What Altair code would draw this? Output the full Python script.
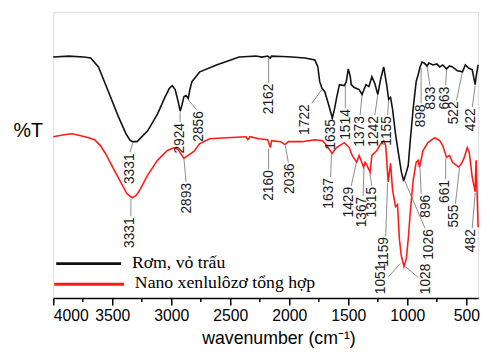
import altair as alt
import pandas as pd

# ---- data (wavenumber cm^-1, %T in arbitrary units) ----
series_names = ["Rơm, vỏ trấu", "Nano xenlulôzơ tổng hợp"]
series_colors = ["#111111", "#ff1a1a"]

black_pts = [
    (4000, 245), (3867, 246), (3742, 245), (3683, 244), (3617, 235), (3533, 210),
    (3450, 185), (3383, 167), (3350, 160.5), (3331, 159), (3290, 159), (3200, 170),
    (3117, 187), (3058, 203), (3017, 213), (2992, 216), (2967, 212), (2942, 200),
    (2924, 190), (2908, 197), (2892, 205), (2875, 206), (2856, 203), (2842, 212),
    (2825, 220), (2758, 230), (2617, 237), (2425, 245), (2350, 245.5), (2283, 246),
    (2230, 245), (2183, 246), (2162, 244), (2150, 246), (2060, 245.5), (1975, 245),
    (1867, 244), (1783, 242), (1758, 235), (1742, 220), (1722, 213), (1700, 210),
    (1675, 200), (1635, 183), (1617, 192), (1600, 203), (1575, 217), (1533, 216),
    (1517, 220), (1500, 233), (1483, 225), (1475, 217), (1450, 214), (1408, 212),
    (1383, 207), (1367, 212), (1350, 217), (1325, 215), (1300, 225), (1275, 218),
    (1250, 207), (1225, 223), (1200, 235), (1175, 217), (1158, 202), (1142, 204),
    (1125, 192), (1100, 167), (1075, 147), (1050, 128), (1033, 120), (1026, 121),
    (1008, 128), (992, 135), (975, 160), (950, 193), (925, 220), (908, 227),
    (892, 235), (875, 240), (858, 239), (833, 236), (817, 239), (783, 237),
    (750, 238), (725, 235), (700, 237), (667, 233), (642, 236), (617, 235),
    (575, 231), (533, 230), (508, 237), (483, 234), (450, 232), (425, 217),
    (417, 225), (400, 237),
]

red_pts = [
    (4000, 164), (3908, 166), (3842, 167), (3767, 165), (3700, 163), (3650, 161),
    (3600, 155), (3558, 147), (3492, 132), (3425, 117), (3375, 106), (3331, 102),
    (3300, 104), (3275, 108), (3200, 125), (3117, 140), (3033, 150), (2975, 153),
    (2942, 151), (2893, 142), (2858, 145), (2808, 149), (2758, 157), (2675, 162),
    (2533, 163), (2367, 164), (2350, 161), (2333, 164), (2258, 162), (2183, 161),
    (2160, 153), (2150, 160), (2075, 159), (2036, 156), (2008, 159), (1892, 159),
    (1783, 161), (1717, 160), (1683, 155), (1637, 147), (1600, 153), (1533, 158),
    (1492, 153), (1467, 145), (1429, 138), (1408, 145), (1370, 133), (1358, 138),
    (1342, 135), (1315, 128), (1300, 145), (1258, 150), (1225, 157), (1200, 160),
    (1183, 155), (1162, 118), (1142, 137), (1125, 110), (1100, 93), (1083, 95),
    (1067, 60), (1051, 43), (1028, 32), (1008, 40), (992, 60), (975, 87),
    (950, 120), (925, 138), (908, 140), (896, 133), (867, 150), (825, 158),
    (767, 163), (725, 160), (700, 155), (668, 143), (642, 145), (617, 138),
    (565, 133), (540, 137), (517, 143), (492, 153), (475, 148), (450, 123),
    (425, 108), (417, 140), (400, 72),
]

# peak annotations: text, text x, text top, leader start (x, y), leader end (x, y)
peak_labels = [
    ("3331", 3350, 147, 3325, 158, 3350, 148),
    ("2924", 2925, 178, 2925, 189, 2925, 179),
    ("2856", 2767, 190, 2858, 202, 2783, 191),
    ("2162", 2175, 218, 2175, 244, 2175, 219),
    ("1722", 1867, 197, 1725, 212, 1808, 198),
    ("1635", 1642, 182, 1642, 183, 1642, 182),
    ("1514", 1517, 192, 1525, 216, 1525, 193),
    ("1373", 1400, 185, 1383, 207, 1400, 186),
    ("1242", 1283, 185, 1250, 207, 1275, 186),
    ("1155", 1175, 185, 1158, 201, 1167, 186),
    ("898", 883, 197, 883, 234, 883, 198),
    ("833", 800, 215, 833, 236, 808, 216),
    ("663", 683, 215, 667, 233, 675, 216),
    ("522", 600, 200, 533, 230, 583, 201),
    ("422", 458, 193, 425, 216, 450, 194),
    ("1026", 817, 70, 1025, 120, 850, 71),
    ("3331", 3350, 82, 3342, 101, 3342, 83),
    ("2893", 2867, 117, 2892, 141, 2875, 118),
    ("2160", 2175, 130, 2175, 152, 2175, 131),
    ("2036", 1992, 137, 2033, 155, 2008, 138),
    ("1637", 1667, 122, 1642, 146, 1650, 123),
    ("1429", 1492, 113, 1433, 137, 1475, 114),
    ("1367", 1383, 103, 1367, 132, 1375, 104),
    ("1315", 1300, 113, 1317, 127, 1300, 114),
    ("1159", 1200, 62, 1167, 117, 1183, 63),
    ("1051", 1225, 35, 1058, 35, 1158, 22),
    ("1028", 842, 35, 1017, 32, 908, 21),
    ("896", 842, 105, 892, 132, 883, 106),
    ("661", 683, 120, 675, 142, 675, 121),
    ("555", 608, 95, 558, 132, 592, 96),
    ("482", 458, 70, 425, 107, 450, 71),
]

major_ticks = [4000, 3500, 3000, 2500, 2000, 1500, 1000, 500]
minor_ticks = [3750, 3250, 2750, 2250, 1750, 1250, 750]

# ---- build tables ----
rows = []
for name, pts in zip(series_names, [black_pts, red_pts]):
    for wn, t in pts:
        rows.append({"series": name, "wn": wn, "T": t})
spec_df = pd.DataFrame(rows)

lab_df = pd.DataFrame(peak_labels, columns=["text", "x", "top", "x1", "y1", "x2", "y2"])
minor_df = pd.DataFrame({"wn": minor_ticks})

W, H = 432, 291
xscale = alt.Scale(domain=[4000, 400], nice=False, zero=False)
yscale = alt.Scale(domain=[0, 291], nice=False, zero=False)

x_axis = alt.Axis(
    values=major_ticks, format="d", title="wavenumber (cm⁻¹)", grid=False,
    tickSize=7, tickWidth=1.5, tickColor="black",
    domainColor="black", domainWidth=1.5,
    labelFont="Liberation Sans", labelFontSize=16, labelColor="black", labelPadding=3,
    titleFont="Liberation Sans", titleFontSize=18, titleFontWeight="normal",
    titleColor="black", titleX=229, titleY=46, titleBaseline="alphabetic",
)
y_axis = alt.Axis(
    title="%T", labels=False, ticks=False, domain=False, grid=False,
    titleAngle=0, titleFont="Liberation Sans", titleFontSize=20,
    titleFontWeight="normal", titleColor="black",
    titleX=-26, titleY=121, titleAlign="center", titleBaseline="middle",
)

lines = alt.Chart(spec_df).mark_line(strokeWidth=1.6, interpolate="linear").encode(
    x=alt.X("wn:Q", scale=xscale, axis=x_axis),
    y=alt.Y("T:Q", scale=yscale, axis=y_axis),
    color=alt.Color("series:N", scale=alt.Scale(domain=series_names, range=series_colors), legend=None),
    detail="series:N",
)

leaders = alt.Chart(lab_df).mark_rule(color="#8a8a8a", strokeWidth=1).encode(
    x=alt.X("x1:Q", scale=xscale), y=alt.Y("y1:Q", scale=yscale),
    x2="x2:Q", y2="y2:Q",
)

texts = alt.Chart(lab_df).mark_text(
    angle=270, align="right", baseline="middle",
    font="Liberation Sans", fontSize=14, color="#1a1a1a",
).encode(
    x=alt.X("x:Q", scale=xscale), y=alt.Y("top:Q", scale=yscale), text="text:N",
)

minor = alt.Chart(minor_df).mark_rule(color="black", strokeWidth=1.5).encode(
    x=alt.X("wn:Q", scale=xscale), y=alt.value(H), y2=alt.value(H + 4),
)

one = pd.DataFrame({"k": [0]})
leg_black_line = alt.Chart(one).mark_rule(color=series_colors[0], strokeWidth=3).encode(
    x=alt.value(3), x2=alt.value(69), y=alt.value(256))
leg_black_text = alt.Chart(one).mark_text(
    align="left", baseline="middle", font="Liberation Serif", fontSize=18, color="black"
).encode(x=alt.value(80), y=alt.value(255), text=alt.value(series_names[0]))
leg_red_line = alt.Chart(one).mark_rule(color=series_colors[1], strokeWidth=3).encode(
    x=alt.value(1), x2=alt.value(72), y=alt.value(277))
leg_red_text = alt.Chart(one).mark_text(
    align="left", baseline="middle", font="Liberation Serif", fontSize=18, color="black"
).encode(x=alt.value(83), y=alt.value(276), text=alt.value(series_names[1]))

chart = alt.layer(
    leaders, lines, texts, minor,
    leg_black_line, leg_black_text, leg_red_line, leg_red_text,
).properties(
    width=W, height=H,
    autosize=alt.AutoSizeParams(type="none"),
    padding={"left": 46, "top": 1, "right": 7, "bottom": 54},
).configure_view(stroke="black", strokeWidth=1.5).configure(background="white")

chart.save("out.html", embed_options={"renderer": "svg", "actions": False})
